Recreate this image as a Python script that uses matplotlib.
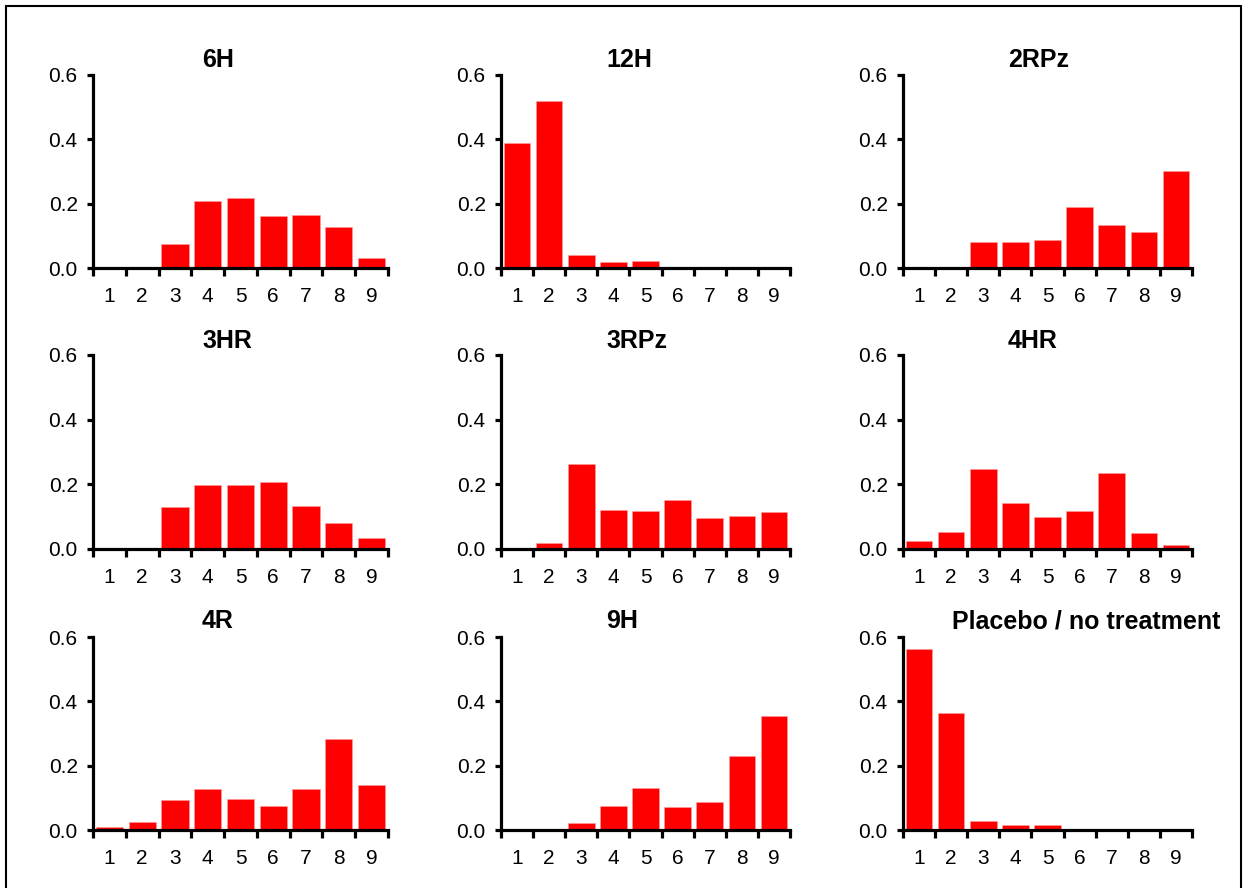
import matplotlib
matplotlib.use("Agg")
import matplotlib.pyplot as plt
from matplotlib.patches import Rectangle
from matplotlib.ticker import FixedLocator

plt.rcParams['font.family'] = ['Liberation Sans', 'DejaVu Sans']

categories = [1, 2, 3, 4, 5, 6, 7, 8, 9]
titles = ["6H", "12H", "2RPz", "3HR", "3RPz", "4HR", "4R", "9H", "Placebo / no treatment"]

v_6H = [0.0, 0.0, 0.075, 0.209, 0.218, 0.163, 0.165, 0.128, 0.031]
v_12H = [0.389, 0.518, 0.039, 0.019, 0.021, 0.0, 0.0, 0.0, 0.0]
v_2RPz = [0.0, 0.0, 0.082, 0.082, 0.088, 0.190, 0.135, 0.112, 0.300]
v_3HR = [0.0, 0.002, 0.130, 0.197, 0.197, 0.207, 0.133, 0.081, 0.033]
v_3RPz = [0.0, 0.018, 0.263, 0.120, 0.117, 0.152, 0.095, 0.101, 0.115]
v_4HR = [0.026, 0.053, 0.246, 0.141, 0.098, 0.117, 0.236, 0.051, 0.012]
v_4R = [0.008, 0.024, 0.092, 0.126, 0.097, 0.075, 0.128, 0.284, 0.140]
v_9H = [0.0, 0.003, 0.023, 0.076, 0.131, 0.073, 0.088, 0.229, 0.354]
v_placebo = [0.563, 0.365, 0.029, 0.014, 0.014, 0.0, 0.0, 0.0, 0.0]

series = [v_6H, v_12H, v_2RPz, v_3HR, v_3RPz, v_4HR, v_4R, v_9H, v_placebo]
y_ticks = [0.0, 0.2, 0.4, 0.6]
y_ticklabels = ["0.0", "0.2", "0.4", "0.6"]

W, H = 1247, 888
fig = plt.figure(figsize=(W / 100, H / 100), dpi=100)

col_left = [93, 501, 903]
col_width = [295, 289, 289]
row_top = [75, 355, 637]
row_bottom = [268, 549, 830]
title_x = [202, 606, 1008]
title_y = [60, 341, 621]

for i, (vals, title) in enumerate(zip(series, titles)):
    r, c = divmod(i, 3)
    ax = fig.add_axes([col_left[c] / W, 1 - row_bottom[r] / H,
                       col_width[c] / W, (row_bottom[r] - row_top[r]) / H])
    ax.bar(categories, vals, width=0.83, color='#ff0000',
           edgecolor='#ff9a9a', linewidth=0.4, zorder=1)
    ax.set_xlim(0.5, 9.5)
    ax.set_ylim(0, 0.6)
    for s in ['top', 'right']:
        ax.spines[s].set_visible(False)
    for s in ['left', 'bottom']:
        ax.spines[s].set_linewidth(2.3)
        ax.spines[s].set_zorder(3)
    ax.set_yticks(y_ticks)
    ax.set_yticklabels(y_ticklabels)
    ax.set_xticks(categories)
    ax.set_xticklabels([str(k) for k in categories])
    ax.xaxis.set_minor_locator(FixedLocator([k - 0.5 for k in categories] + [9.5]))
    ax.tick_params(axis='x', which='major', length=0, pad=13.5, labelsize=15)
    ax.tick_params(axis='x', which='minor', length=6, width=2.3, direction='out')
    ax.tick_params(axis='y', which='major', length=4, width=2.3, pad=7, labelsize=15)
    ax.patch.set_alpha(0)
    tx = title_x[c] if i != 8 else 952
    fig.text(tx / W, 1 - title_y[r] / H, title, ha='left', va='center',
             fontsize=18, fontweight='bold')

fig.add_artist(Rectangle((6 / W, -0.01), (1241 - 6) / W, 1 - 6 / H + 0.01,
                         transform=fig.transFigure, fill=False,
                         edgecolor='black', linewidth=1.5))

fig.savefig("out.png", dpi=100)
